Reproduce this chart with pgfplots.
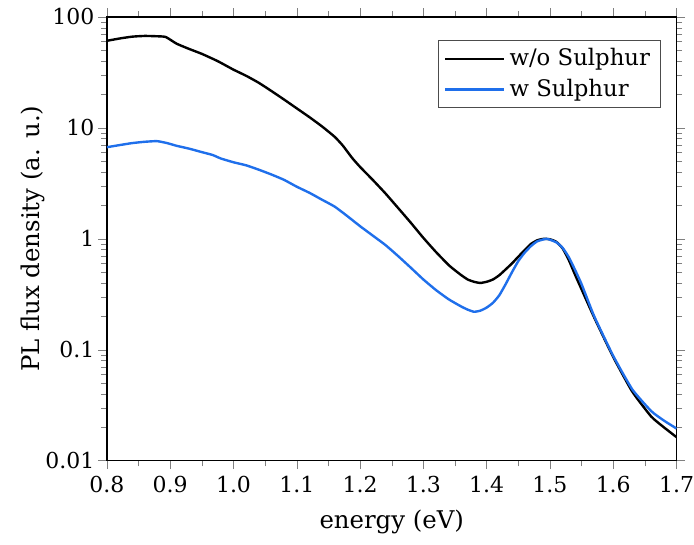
\documentclass[border=0pt]{standalone}
\usepackage{pgfplots}
\pgfplotsset{compat=1.18}
\usepackage{fontspec}
\setmainfont{DejaVu Serif}
\definecolor{sblue}{RGB}{31,111,235}

\begin{document}
\begin{tikzpicture}
\begin{axis}[name=ax,
    width=285pt, height=222pt, scale only axis,
    xmin=0.8, xmax=1.7, ymode=log, ymin=0.01, ymax=100,
    axis line style={line width=0.75pt},
    tick align=outside,
    xtick={0.8,0.9,1.0,1.1,1.2,1.3,1.4,1.5,1.6,1.7}, minor x tick num=1,
    ytick={0.01,0.1,1,10,100},
    yticklabels={0.01,0.1,1,10,100},
    xticklabels={0.8,0.9,1.0,1.1,1.2,1.3,1.4,1.5,1.6,1.7},
    tick label style={font=\fontsize{11}{12}\selectfont, inner xsep=0pt},
    yticklabel style={xshift=-1.8pt},
    label style={font=\fontsize{12.2}{14}\selectfont},
    xlabel={energy (eV)}, ylabel={PL flux density (a. u.)},
    xlabel style={at={([yshift=-30.5pt]axis description cs:0.5,0)}, anchor=center},
    ylabel style={at={([xshift=-37pt]axis description cs:0,0.5)}, anchor=center},
    legend style={at={(0.972,0.948)}, anchor=north east, draw=black!70, line width=0.5pt,
      font=\fontsize{11.4}{13}\selectfont, row sep=1.2pt, inner xsep=3pt, inner ysep=2pt},
    legend cell align=left,
    legend image code/.code={\draw[#1, line width=1.2pt] (0cm,0cm) -- (1.04cm,0cm);},
  ]
\addplot[black, line width=1.2pt, smooth, tension=0.3] coordinates {
(0.80,61) (0.82,64) (0.84,66.5) (0.86,67.5) (0.88,67) (0.893,66) (0.91,57.5)
(0.93,51.5) (0.95,46.5) (0.975,40) (1.00,33.5) (1.02,29.5) (1.04,25.5)
(1.06,21.5) (1.08,18) (1.10,15) (1.12,12.5) (1.14,10.3) (1.16,8.3) (1.173,6.9)
(1.187,5.4) (1.20,4.45) (1.22,3.4) (1.24,2.57) (1.26,1.9) (1.28,1.4) (1.30,1.02)
(1.32,0.76) (1.34,0.58) (1.35,0.52) (1.36,0.47) (1.37,0.43) (1.38,0.41) (1.39,0.40)
(1.40,0.41) (1.41,0.43) (1.42,0.47) (1.43,0.53) (1.44,0.60) (1.45,0.69) (1.46,0.79)
(1.47,0.90) (1.48,0.97) (1.49,1.0) (1.50,0.99) (1.51,0.94) (1.52,0.82) (1.53,0.64)
(1.54,0.47) (1.55,0.35) (1.57,0.195) (1.60,0.086) (1.63,0.042) (1.66,0.025) (1.68,0.020) (1.70,0.0163)
};
\addlegendentry{w/o Sulphur}
\addplot[sblue, line width=1.2pt, smooth, tension=0.3] coordinates {
(0.80,6.7) (0.82,7.0) (0.84,7.3) (0.86,7.5) (0.879,7.6) (0.895,7.3) (0.91,6.9)
(0.93,6.5) (0.95,6.05) (0.967,5.7) (0.98,5.3) (1.00,4.9) (1.02,4.6) (1.04,4.2) (1.06,3.8)
(1.08,3.4) (1.10,2.95) (1.12,2.6) (1.14,2.25) (1.16,1.95) (1.18,1.6) (1.20,1.3)
(1.22,1.07) (1.24,0.88) (1.26,0.70) (1.28,0.55) (1.30,0.43) (1.32,0.345) (1.34,0.285)
(1.36,0.245) (1.37,0.23) (1.38,0.22) (1.39,0.225) (1.40,0.24) (1.41,0.265) (1.42,0.31)
(1.43,0.39) (1.44,0.5) (1.45,0.63) (1.46,0.75) (1.47,0.86) (1.48,0.95) (1.495,1.0)
(1.51,0.93) (1.52,0.83) (1.53,0.68) (1.54,0.52) (1.55,0.39) (1.57,0.20)
(1.60,0.088) (1.63,0.044) (1.66,0.028) (1.68,0.023) (1.70,0.0195)
};
\addlegendentry{w Sulphur}
\end{axis}
\path ([xshift=-53.5pt,yshift=-42pt]ax.south west) rectangle ([xshift=8.5pt,yshift=8.5pt]ax.north east);
\end{tikzpicture}
\end{document}
